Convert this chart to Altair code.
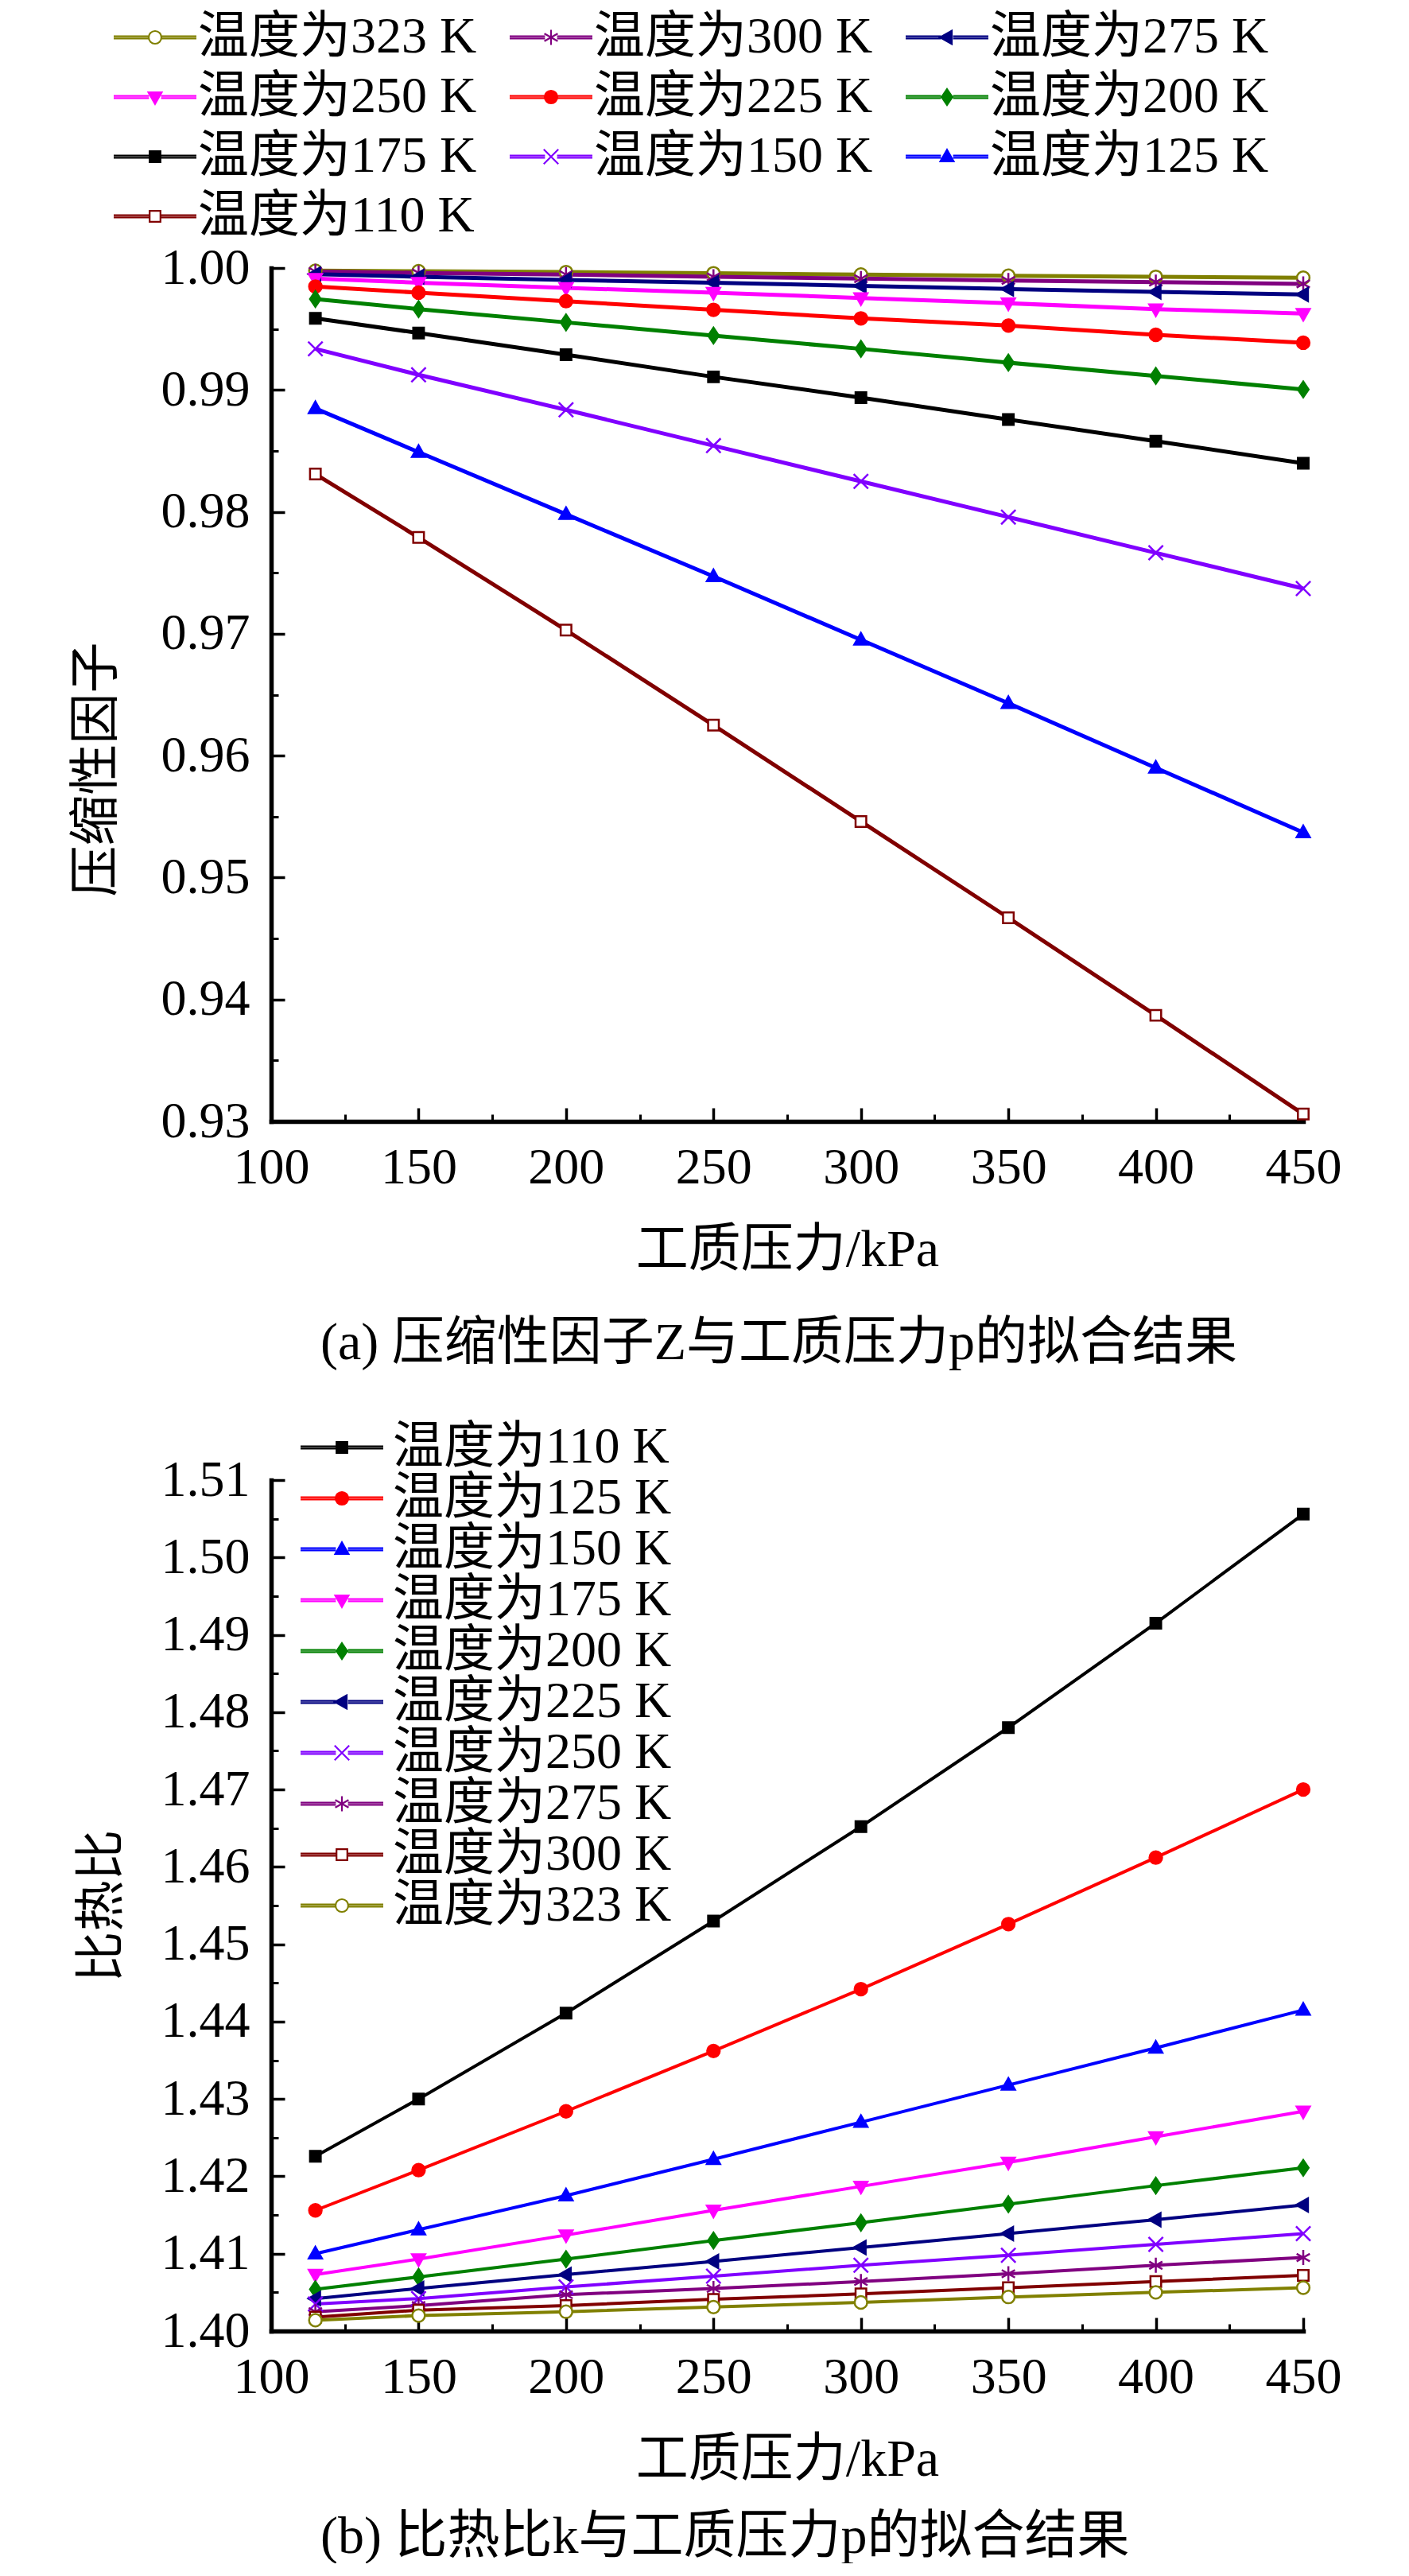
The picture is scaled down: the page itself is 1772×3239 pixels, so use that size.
import altair as alt
import pandas as pd

# ---------------- data ----------------
pressure = [115, 150, 200, 250, 300, 350, 400, 450]

# (a) compressibility factor Z
z_323 = [0.99978, 0.99974, 0.99967, 0.99957, 0.99946, 0.99937, 0.99928, 0.99920]
z_300 = [0.99972, 0.99960, 0.99946, 0.99928, 0.99913, 0.99898, 0.99885, 0.99870]
z_275 = [0.99950, 0.99928, 0.99902, 0.99880, 0.99854, 0.99828, 0.99804, 0.99783]
z_250 = [0.99913, 0.99880, 0.99837, 0.99798, 0.99754, 0.99711, 0.99663, 0.99626]
z_225 = [0.99848, 0.99798, 0.99728, 0.99657, 0.99587, 0.99528, 0.99452, 0.99387]
z_200 = [0.99746, 0.99663, 0.99554, 0.99446, 0.99337, 0.99224, 0.99115, 0.99004]
z_175 = [0.99587, 0.99467, 0.99289, 0.99107, 0.98937, 0.98757, 0.98580, 0.98398]
z_150 = [0.99337, 0.99124, 0.98837, 0.98543, 0.98250, 0.97957, 0.97664, 0.97371]
z_125 = [0.98848, 0.98490, 0.97980, 0.97470, 0.96950, 0.96430, 0.95900, 0.95370]
z_110 = [0.98310, 0.97790, 0.97030, 0.96250, 0.95460, 0.94670, 0.93870, 0.93060]

# (b) specific heat ratio k
k_110 = [1.4226, 1.4300, 1.4411, 1.4530, 1.4652, 1.4780, 1.4915, 1.5056]
k_125 = [1.4156, 1.4208, 1.4284, 1.4362, 1.4442, 1.4526, 1.4612, 1.4700]
k_150 = [1.4100, 1.4131, 1.4175, 1.4222, 1.4270, 1.4318, 1.4366, 1.4415]
k_175 = [1.4073, 1.4093, 1.4124, 1.4156, 1.4187, 1.4218, 1.4251, 1.4284]
k_200 = [1.4054, 1.4070, 1.4093, 1.4117, 1.4140, 1.4164, 1.4188, 1.4211]
k_225 = [1.4042, 1.4055, 1.4073, 1.4090, 1.4108, 1.4126, 1.4144, 1.4163]
k_250 = [1.4035, 1.4042, 1.4057, 1.4071, 1.4085, 1.4098, 1.4112, 1.4126]
k_275 = [1.4025, 1.4033, 1.4047, 1.4055, 1.4064, 1.4074, 1.4085, 1.4095]
k_300 = [1.4018, 1.4027, 1.4033, 1.4041, 1.4048, 1.4056, 1.4064, 1.4072]
k_323 = [1.4014, 1.4020, 1.4025, 1.4031, 1.4037, 1.4044, 1.4050, 1.4056]

labels_z = ["温度为323 K", "温度为300 K", "温度为275 K", "温度为250 K", "温度为225 K",
            "温度为200 K", "温度为175 K", "温度为150 K", "温度为125 K", "温度为110 K"]
series_z = [z_323, z_300, z_275, z_250, z_225, z_200, z_175, z_150, z_125, z_110]

labels_k = ["温度为110 K", "温度为125 K", "温度为150 K", "温度为175 K", "温度为200 K",
            "温度为225 K", "温度为250 K", "温度为275 K", "温度为300 K", "温度为323 K"]
series_k = [k_110, k_125, k_150, k_175, k_200, k_225, k_250, k_275, k_300, k_323]

x_major = [100, 150, 200, 250, 300, 350, 400, 450]
x_minor = [125, 175, 225, 275, 325, 375, 425]
z_major = [0.93, 0.94, 0.95, 0.96, 0.97, 0.98, 0.99, 1.00]
z_minor = [0.935, 0.945, 0.955, 0.965, 0.975, 0.985, 0.995]
k_major = [1.40, 1.41, 1.42, 1.43, 1.44, 1.45, 1.46, 1.47, 1.48, 1.49, 1.50, 1.51]
k_minor = [1.405, 1.415, 1.425, 1.435, 1.445, 1.455, 1.465, 1.475, 1.485, 1.495, 1.505]


def frame(labels, series):
    rows = []
    for lab, vals in zip(labels, series):
        for p, v in zip(pressure, vals):
            rows.append({"p": p, "v": v, "T": lab})
    return pd.DataFrame(rows)


df_z = frame(labels_z, series_z)
df_k = frame(labels_k, series_k)

# ---------------- styles ----------------
FONT = "Liberation Serif, Noto Sans CJK SC"

MK = {
    "circle": "M1,0A1,1,0,1,1,-1,0A1,1,0,1,1,1,0Z",
    "square": "M-0.85,-0.85H0.85V0.85H-0.85Z",
    "tri_up": "M0,-1.1L1.05,0.75H-1.05Z",
    "tri_down": "M0,1.1L1.05,-0.75H-1.05Z",
    "tri_left": "M-1.1,0L0.75,-1.05V1.05Z",
    "diamond": "M0,-1.25L0.85,0L0,1.25L-0.85,0Z",
    "cross": "M-1.15,-1.15L1.15,1.15M-1.15,1.15L1.15,-1.15",
    "aster": "M0,-1.2V1.2M-1.05,-0.6L1.05,0.6M-1.05,0.6L1.05,-0.6",
}
# legend glyph: a horizontal line (drawn as two close strokes) plus the marker
LEG_LINE = "M-6.5,-0.17H-0.95M-6.5,0.17H-0.95M0.95,-0.17H6.5M0.95,0.17H6.5"

STY = {
    "black": ("#000000", "#000000", "square"),
    "red": ("#FF0000", "#FF0000", "circle"),
    "blue": ("#0000FF", "#0000FF", "tri_up"),
    "magenta": ("#FF00FF", "#FF00FF", "tri_down"),
    "green": ("#008000", "#008000", "diamond"),
    "navy": ("#000080", "#000080", "tri_left"),
    "violet": ("#8000FF", "#8000FF", "cross"),
    "purple": ("#800080", "#800080", "aster"),
    "wine": ("#800000", "#FFFFFF", "square"),
    "olive": ("#808000", "#FFFFFF", "circle"),
}
order_z = ["olive", "purple", "navy", "magenta", "red", "green", "black", "violet", "blue", "wine"]
order_k = ["black", "red", "blue", "magenta", "green", "navy", "violet", "purple", "wine", "olive"]


def minor_axis(vals, orient):
    return alt.Axis(values=vals, labels=False, domain=False, grid=False, ticks=True,
                    tickSize=alt.ExprRef("-9"), tickWidth=3, tickColor="black",
                    title=None, orient=orient)


def panel(df, labels, order, ydom, height, ymaj, ymin, ytitle, ytx, yty, caption,
          cap_off, legend_props, lw):
    strokes = [STY[o][0] for o in order]
    fills = [STY[o][1] for o in order]
    mk = [MK[STY[o][2]] for o in order]
    lg = [LEG_LINE + MK[STY[o][2]] for o in order]

    xax = alt.Axis(values=x_major, format="d", title="工质压力/kPa", orient="bottom",
                   grid=False, domainColor="black", domainWidth=5.5, domainCap="square",
                   tickColor="black", tickWidth=3.5, tickSize=alt.ExprRef("-17"),
                   labelFont=FONT, labelFontSize=64, labelColor="black", labelPadding=75,
                   labelBaseline="middle", labelFlush=False, labelOverlap=False,
                   titleFont=FONT, titleFontSize=66, titleFontWeight="normal",
                   titleColor="black", titleX=649, titleY=161, titleBaseline="middle",
                   titleAlign="center")
    yax = alt.Axis(values=ymaj, format=".2f", title=ytitle, orient="left",
                   grid=False, domainColor="black", domainWidth=5.5, domainCap="square",
                   tickColor="black", tickWidth=3.5, tickSize=alt.ExprRef("-17"),
                   labelFont=FONT, labelFontSize=64, labelColor="black", labelPadding=44,
                   labelFlush=False, labelOverlap=False,
                   titleFont=FONT, titleFontSize=64, titleFontWeight="normal",
                   titleColor="black", titleX=ytx, titleY=yty, titleAngle=270,
                   titleBaseline="middle", titleAlign="center")

    xs = alt.Scale(domain=[100, 450], nice=False, zero=False)
    ys = alt.Scale(domain=ydom, nice=False, zero=False)

    lines = alt.Chart(df).mark_line(strokeWidth=lw).encode(
        x=alt.X("p:Q", scale=xs, axis=xax),
        y=alt.Y("v:Q", scale=ys, axis=yax),
        color=alt.Color("T:N", scale=alt.Scale(domain=labels, range=strokes), legend=None),
    )
    pts = alt.Chart(df).mark_point(size=250, strokeWidth=2.5, opacity=1).encode(
        x=alt.X("p:Q", scale=xs, axis=minor_axis(x_minor, "bottom")),
        y=alt.Y("v:Q", scale=ys, axis=minor_axis(ymin, "left")),
        shape=alt.Shape("T:N", scale=alt.Scale(domain=labels, range=mk), legend=None),
        fill=alt.Fill("T:N", scale=alt.Scale(domain=labels, range=fills), legend=None),
        stroke=alt.Stroke("T:N", scale=alt.Scale(domain=labels, range=strokes), legend=None),
    )

    def leg():
        return alt.Legend(title=None, orient="none", padding=0, symbolSize=256,
                          symbolStrokeWidth=2.2, symbolOpacity=1, labelFont=FONT,
                          labelFontSize=64, labelColor="black", labelLimit=2000,
                          **legend_props)

    legend_layer = alt.Chart(df).mark_point(size=256, strokeWidth=2.2, opacity=1).encode(
        shape=alt.Shape("T:N", scale=alt.Scale(domain=labels, range=lg), legend=leg()),
        fill=alt.Fill("T:N", scale=alt.Scale(domain=labels, range=fills), legend=leg()),
        stroke=alt.Stroke("T:N", scale=alt.Scale(domain=labels, range=strokes), legend=leg()),
    ).transform_filter("false")

    return alt.layer(lines, pts, legend_layer).resolve_axis(
        x="independent", y="independent"
    ).resolve_scale(
        shape="independent", fill="independent", stroke="independent"
    ).properties(
        width=1298, height=height,
        title=alt.TitleParams(text=caption, orient="bottom", anchor="start", frame="group",
                              dx=62, offset=cap_off, font=FONT, fontSize=66,
                              fontWeight="normal", color="black", baseline="top"),
    )


top = panel(df_z, labels_z, order_z, [0.93, 1.00], 1073, z_major, z_minor, "压缩性因子",
            -220, 630, "(a) 压缩性因子Z与工质压力p的拟合结果", 53,
            dict(columns=3, direction="horizontal", columnPadding=36, rowPadding=11,
                 labelOffset=22, legendX=-178, legendY=-322), 5)
bottom = panel(df_k, labels_k, order_k, [1.40, 1.51], 1070, k_major, k_minor, "比热比",
               -213, 535, "(b) 比热比k与工质压力p的拟合结果", 33,
               dict(direction="vertical", rowPadding=0, labelOffset=32, legendX=57,
                    legendY=-73), 4)

chart = alt.vconcat(top, bottom, spacing=451, bounds="flush").resolve_scale(
    color="independent", shape="independent", fill="independent", stroke="independent"
).properties(
    padding={"left": 81, "top": 7, "right": 10, "bottom": 0},
    background="white",
).configure_view(strokeWidth=0)

chart.save("out.html", embed_options={"renderer": "svg", "actions": False})
